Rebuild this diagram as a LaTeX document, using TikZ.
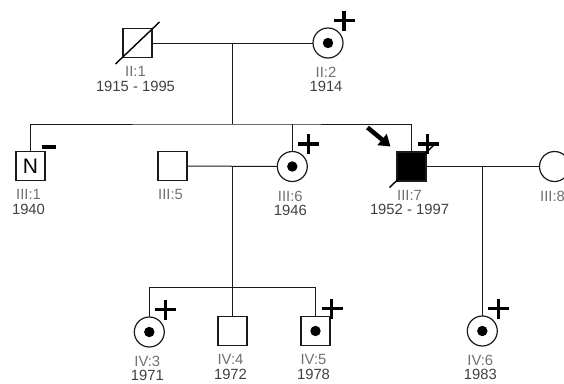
\documentclass[tikz,border=0pt]{standalone}
\usepackage{fontspec}
\usetikzlibrary{arrows.meta,calc,positioning}
\newfontfamily\pedfont{Liberation Sans}
\definecolor{Ink}{HTML}{1A1A1A}
\definecolor{IdGray}{HTML}{707070}
\definecolor{DateGray}{HTML}{404040}

\tikzset{
  male/.style={draw=Ink,line width=1.2pt,fill=white,minimum size=29pt,inner sep=0pt,outer sep=0pt},
  female/.style={circle,draw=Ink,line width=1.2pt,fill=white,minimum size=30pt,inner sep=0pt,outer sep=0pt},
  tag/.style={align=center,inner sep=0pt,text=DateGray,xshift=-2pt,font=\pedfont\fontsize{14.8}{14.2}\selectfont},
  link/.style={draw=Ink,line width=1pt},
  sign/.style={line width=3.5pt,line cap=butt},
}
\newcommand\pid[1]{\textcolor{IdGray}{#1}}
\newcommand\carrier[1]{\fill (#1) circle (5.2pt);}
\newcommand\plussign[1]{\draw[sign] ($(#1)+(6,-22.5)$) -- ++(21,0) ($(#1)+(16,-32.5)$) -- ++(0,20);}
\newcommand\deceased[1]{\draw[line width=1.4pt] ($(#1)+(-22,21)$) -- ($(#1)+(22,-21)$);}

\begin{document}
\begin{tikzpicture}[x=1pt,y=-1pt]
  \useasboundingbox (0,0) rectangle (564,383);
  \clip (0,0) rectangle (564,383);
  % generation II
  \node[male] (p21) at (137.5,43) {};
  \node[female] (p22) at (328,43) {};
  % generation III
  \node[male,font=\pedfont\fontsize{21}{21}\selectfont] (p31) at (30.5,166) {N};
  \node[male] (p35) at (172.5,166) {};
  \node[female] (p36) at (292.3,166.5) {};
  \node[male,fill=black] (p37) at (411.5,166.5) {};
  \node[female] (p38) at (554.5,166.5) {};
  % generation IV
  \node[female] (p43) at (149.3,332) {};
  \node[male] (p44) at (232.5,331) {};
  \node[male] (p45) at (315.5,331) {};
  \node[female] (p46) at (482.3,331) {};

  % couples and sibships
  \coordinate (m2) at ($(p21.east)!.5!(p22.west)$);
  \coordinate (s3) at ($(m2)+(0,81)$);
  \coordinate (m3) at ($(p35.east)!.5!(p36.west)$);
  \coordinate (s4) at ($(m3)+(0,121)$);
  \coordinate (m4) at ($(p37.east)!.5!(p38.west)$);
  \draw[link] (p21.east) -- (p22.west);
  \draw[link] (m2) -- (s3);
  \draw[link] (p31.north) |- (s3) -| (p37.north);
  \draw[link] (p36.north) -- (p36.north |- s3);
  \draw[link] (p35.east) -- (p36.west);
  \draw[link] (m3) -- (m3 |- p44.north);
  \draw[link] (p43.north) |- (s4) -| (p45.north);
  \draw[link] (p37.east) -- (p38.west);
  \draw[link] (m4) -- (m4 |- p46.north);

  % markers
  \carrier{p22} \carrier{p36} \carrier{p43} \carrier{p45} \carrier{p46}
  \plussign{p22} \plussign{p36} \plussign{p37}
  \plussign{p43} \plussign{p45} \plussign{p46}
  \deceased{p21} \deceased{p37}
  \draw[sign,line width=4pt] ($(p31)+(11.5,-19.5)$) -- ++(13.5,0);
  \draw[line width=4.5pt,-{Triangle[length=11pt,width=14pt]}]
    ($(p37)+(-44,-39)$) -- ($(p37)+(-21,-20)$);

  % labels
  \node[tag,below=9pt of p21] (t21) {\pid{II:1}\\1915 - 1995};
  \node[tag,below=9pt of p22] (t22) {\pid{II:2}\\1914};
  \node[tag,below=9pt of p31] (t31) {\pid{III:1}\\1940};
  \node[tag,below=9pt of p35] (t35) {\pid{III:5}};
  \node[tag,below=9pt of p36] (t36) {\pid{III:6}\\1946};
  \node[tag,below=9pt of p37] (t37) {\pid{III:7}\\1952 - 1997};
  \node[tag,below=9pt of p38] (t38) {\pid{III:8}};
  \node[tag,below=9pt of p43] (t43) {\pid{IV:3}\\1971};
  \node[tag,below=9pt of p44] (t44) {\pid{IV:4}\\1972};
  \node[tag,below=9pt of p45] (t45) {\pid{IV:5}\\1978};
  \node[tag,below=9pt of p46] (t46) {\pid{IV:6}\\1983};
\end{tikzpicture}
\end{document}
